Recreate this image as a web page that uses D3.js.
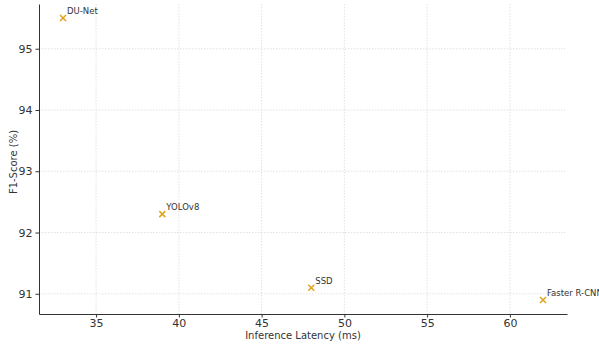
<!DOCTYPE html>
<html><head><meta charset="utf-8">
<script src="https://cdn.jsdelivr.net/npm/d3@7"></script>
<style>body{margin:0;background:#fff}svg{display:block}</style>
</head><body>
<svg id="c" width="599" height="344"></svg>
<script>
const models = ["DU-Net", "YOLOv8", "SSD", "Faster R-CNN"];
const latency = [33, 39, 48, 62];
const f1 = [95.5, 92.3, 91.1, 90.9];
const xTicks = [35, 40, 45, 50, 55, 60];
const yTicks = [91, 92, 93, 94, 95];

const svg = d3.select("#c");
const L = 39, R = 567, T = 4, B = 314;
const x = d3.scaleLinear().domain([31.55, 63.45]).range([L, R]);
const y = d3.scaleLinear().domain([90.67, 95.73]).range([B, T]);
const font = "DejaVu Sans, sans-serif";
const ink = "#333";

// grid
svg.append("g").selectAll("line").data(xTicks).join("line")
  .attr("x1", d => x(d)).attr("x2", d => x(d)).attr("y1", T).attr("y2", B)
  .attr("stroke", "#d6d6d6").attr("stroke-width", 0.7).attr("stroke-dasharray", "1.5,1.5");
svg.append("g").selectAll("line").data(yTicks).join("line")
  .attr("x1", L).attr("x2", R).attr("y1", d => y(d)).attr("y2", d => y(d))
  .attr("stroke", "#d6d6d6").attr("stroke-width", 0.7).attr("stroke-dasharray", "1.5,1.5");

// axes
const xa = svg.append("g").attr("transform", `translate(0,${B})`)
  .call(d3.axisBottom(x).tickValues(xTicks).tickFormat(d3.format("d")).tickSize(3.5).tickPadding(2).tickSizeOuter(0));
const ya = svg.append("g").attr("transform", `translate(${L},0)`)
  .call(d3.axisLeft(y).tickValues(yTicks).tickFormat(d3.format("d")).tickSize(3.5).tickPadding(3).tickSizeOuter(0));
[xa, ya].forEach(a => {
  a.select(".domain").attr("stroke", ink).attr("stroke-width", 1);
  a.selectAll(".tick line").attr("stroke", ink);
  a.selectAll("text").attr("fill", ink).style("font-family", font).style("font-size", "11px");
});

// axis titles
svg.append("text").attr("x", 303).attr("y", 339).attr("text-anchor", "middle")
  .style("font-family", font).style("font-size", "10px").attr("fill", ink)
  .text("Inference Latency (ms)");
svg.append("text").attr("transform", `translate(17,${(T + B) / 2 + 3}) rotate(-90)`)
  .attr("text-anchor", "middle").style("font-family", font).style("font-size", "10px")
  .attr("fill", ink).text("F1-Score (%)");

// points
const data = models.map((m, i) => ({ m, lx: latency[i], f: f1[i] }));
const s = 3;
const pts = svg.append("g").selectAll("g").data(data).join("g")
  .attr("transform", d => `translate(${x(d.lx)},${y(d.f)})`);
pts.append("path").attr("d", `M${-s},${-s}L${s},${s}M${-s},${s}L${s},${-s}`)
  .attr("stroke", "#e0a21a").attr("stroke-width", 1.5);
pts.append("text").attr("x", 4).attr("y", -4)
  .style("font-family", font).style("font-size", "8.5px").attr("fill", ink)
  .text(d => d.m);
</script>
</body></html>
